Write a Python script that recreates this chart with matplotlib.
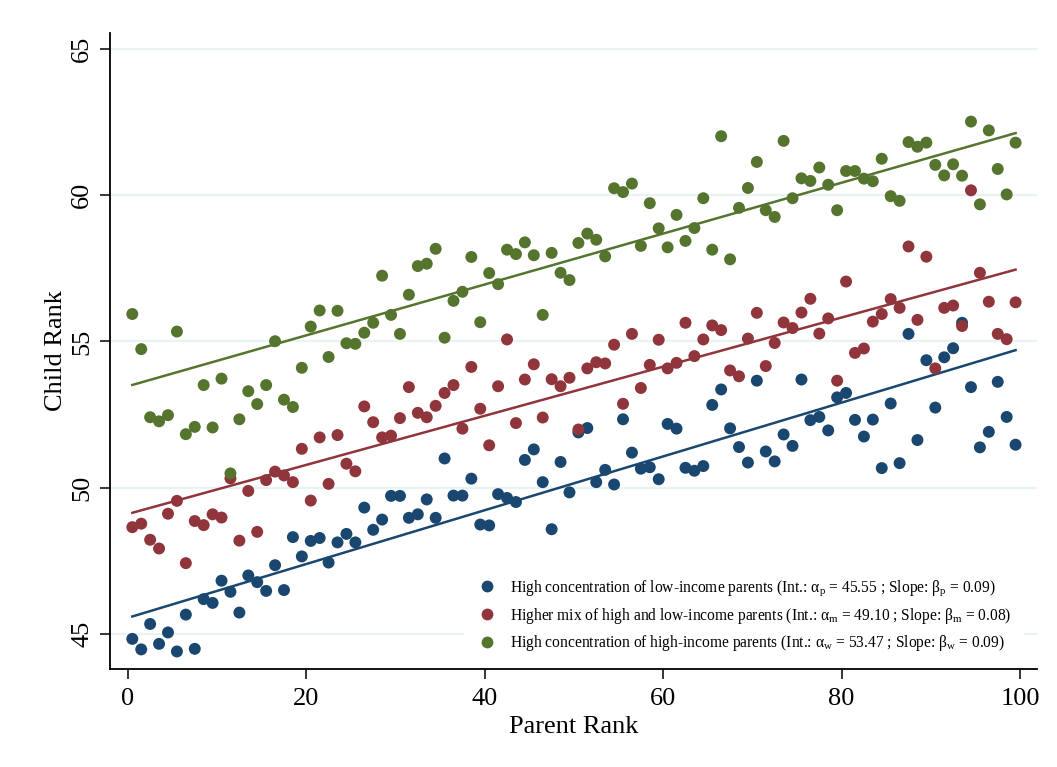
import numpy as np
import matplotlib
matplotlib.use("Agg")
import matplotlib.pyplot as plt
from matplotlib.lines import Line2D

plt.rcParams["font.family"] = ["Liberation Serif", "DejaVu Serif"]
plt.rcParams["mathtext.fontset"] = "custom"
plt.rcParams["mathtext.rm"] = "Liberation Serif"
plt.rcParams["mathtext.it"] = "Liberation Serif:italic"

# Parent rank bins (percentile midpoints)
parent_rank = np.arange(100) + 0.5

# Mean child rank per parent-rank bin, by neighbourhood type
low_income = [
    44.83, 44.47, 45.34, 44.66, 45.05, 44.40, 45.66, 44.49, 46.19, 46.06,
    46.82, 46.44, 45.73, 47.00, 46.77, 46.47, 47.35, 46.50, 48.31, 47.65,
    48.18, 48.28, 47.44, 48.13, 48.42, 48.13, 49.32, 48.56, 48.91, 49.72,
    49.72, 48.97, 49.09, 49.60, 48.97, 51.00, 49.73, 49.73, 50.31, 48.74,
    48.71, 49.78, 49.65, 49.51, 50.95, 51.31, 50.19, 48.58, 50.88, 49.84,
    51.89, 52.04, 50.19, 50.61, 50.11, 52.34, 51.20, 50.65, 50.70, 50.29,
    52.18, 52.02, 50.68, 50.58, 50.74, 52.83, 53.36, 52.03, 51.39, 50.86,
    53.66, 51.24, 50.90, 51.82, 51.43, 53.70, 52.31, 52.42, 51.96, 53.09,
    53.24, 52.32, 51.75, 52.33, 50.67, 52.88, 50.84, 55.26, 51.63, 54.36,
    52.74, 54.46, 54.77, 55.64, 53.44, 51.38, 51.91, 53.62, 52.42, 51.47,
]
mixed_income = [
    48.65, 48.77, 48.22, 47.92, 49.11, 49.55, 47.42, 48.86, 48.72, 49.09,
    48.98, 50.32, 48.19, 49.89, 48.49, 50.26, 50.55, 50.42, 50.19, 51.33,
    49.56, 51.72, 50.13, 51.80, 50.82, 50.56, 52.78, 52.24, 51.72, 51.78,
    52.38, 53.44, 52.56, 52.41, 52.80, 53.24, 53.51, 52.02, 54.13, 52.70,
    51.45, 53.47, 55.07, 52.21, 53.70, 54.22, 52.40, 53.71, 53.47, 53.76,
    51.99, 54.08, 54.29, 54.25, 54.89, 52.87, 55.26, 53.41, 54.20, 55.06,
    54.08, 54.27, 55.64, 54.50, 55.07, 55.55, 55.39, 54.01, 53.81, 55.10,
    55.98, 54.16, 54.95, 55.65, 55.46, 55.99, 56.46, 55.27, 55.79, 53.66,
    57.05, 54.61, 54.76, 55.68, 55.94, 56.45, 56.15, 58.25, 55.74, 57.90,
    54.08, 56.15, 56.23, 55.53, 60.17, 57.35, 56.36, 55.26, 55.08, 56.34,
]
high_income = [
    55.94, 54.74, 52.41, 52.27, 52.48, 55.34, 51.83, 52.08, 53.51, 52.06,
    53.73, 50.49, 52.34, 53.30, 52.86, 53.51, 55.01, 53.01, 52.76, 54.10,
    55.51, 56.06, 54.47, 56.05, 54.94, 54.92, 55.30, 55.64, 57.25, 55.91,
    55.26, 56.60, 57.58, 57.66, 58.17, 55.13, 56.39, 56.70, 57.89, 55.66,
    57.34, 56.96, 58.14, 57.99, 58.39, 57.95, 55.91, 58.03, 57.35, 57.10,
    58.37, 58.69, 58.48, 57.91, 60.24, 60.11, 60.40, 58.27, 59.73, 58.87,
    58.22, 59.33, 58.44, 58.88, 59.90, 58.14, 62.02, 57.81, 59.57, 60.25,
    61.14, 59.49, 59.26, 61.86, 59.90, 60.58, 60.49, 60.95, 60.36, 59.49,
    60.83, 60.83, 60.57, 60.48, 61.25, 59.97, 59.81, 61.82, 61.66, 61.80,
    61.04, 60.68, 61.06, 60.67, 62.52, 59.69, 62.22, 60.90, 60.03, 61.80,
]

# Linear fit parameters
intercepts = [45.55, 49.10, 53.47]
slopes = [0.092, 0.084, 0.087]
subscripts = ["p", "m", "w"]
group_names = [
    "High concentration of low-income parents",
    "Higher mix of high and low-income parents",
    "High concentration of high-income parents",
]
colors = ["#1a476f", "#90353b", "#55752f"]
series = [low_income, mixed_income, high_income]

fig = plt.figure(figsize=(10.57, 7.67), dpi=100)
ax = fig.add_axes([110 / 1057, 98 / 767, (1037 - 110) / 1057, (669 - 33) / 767])

for vals, a, b, c in zip(series, intercepts, slopes, colors):
    ax.scatter(parent_rank, vals, s=74, color=c, edgecolors="none", zorder=3)
    xfit = np.array([parent_rank[0], parent_rank[-1]])
    ax.plot(xfit, a + b * xfit, color=c, lw=1.8, zorder=3)

ax.set_xlim(-2.0, 101.9)
ax.set_ylim(43.8, 65.55)
ax.set_xticks([0, 20, 40, 60, 80, 100])
ax.set_yticks([45, 50, 55, 60, 65])
ax.grid(axis="y", color="#eaf2f3", lw=1.6, zorder=0)
ax.set_axisbelow(True)
for side in ("top", "right"):
    ax.spines[side].set_visible(False)
for side in ("left", "bottom"):
    ax.spines[side].set_linewidth(1.3)
    ax.spines[side].set_color("#000000")
    ax.spines[side].set_zorder(6)
ax.tick_params(axis="both", length=7, width=1.1, labelsize=19)
ax.tick_params(axis="x", pad=7)
ax.tick_params(axis="y", pad=5)
plt.setp(ax.get_yticklabels(), rotation=90, va="center")
ax.set_xlabel("Parent Rank", fontsize=19, labelpad=4)
ax.set_ylabel("Child Rank", fontsize=19, labelpad=3)

handles = []
labels = []
for name, a, b, sub, c in zip(group_names, intercepts, slopes, subscripts, colors):
    handles.append(Line2D([], [], ls="none", marker="o", ms=8.5, color=c, mec="none"))
    labels.append(
        f"{name} (Int.: α$_\\mathrm{{{sub}}}$ = {a:.2f} ; "
        f"Slope: β$_\\mathrm{{{sub}}}$ = {b:.2f})"
    )
leg = ax.legend(handles, labels, loc="lower right", bbox_to_anchor=(0.989, 0.0),
                fontsize=11.2, frameon=True, facecolor="white", edgecolor="none",
                framealpha=1.0, fancybox=False, handletextpad=0.88,
                labelspacing=0.5, borderpad=0.85, borderaxespad=0.15,
                handlelength=1.2)
leg.set_zorder(5)

fig.savefig("out.png", dpi=100, facecolor="white")
